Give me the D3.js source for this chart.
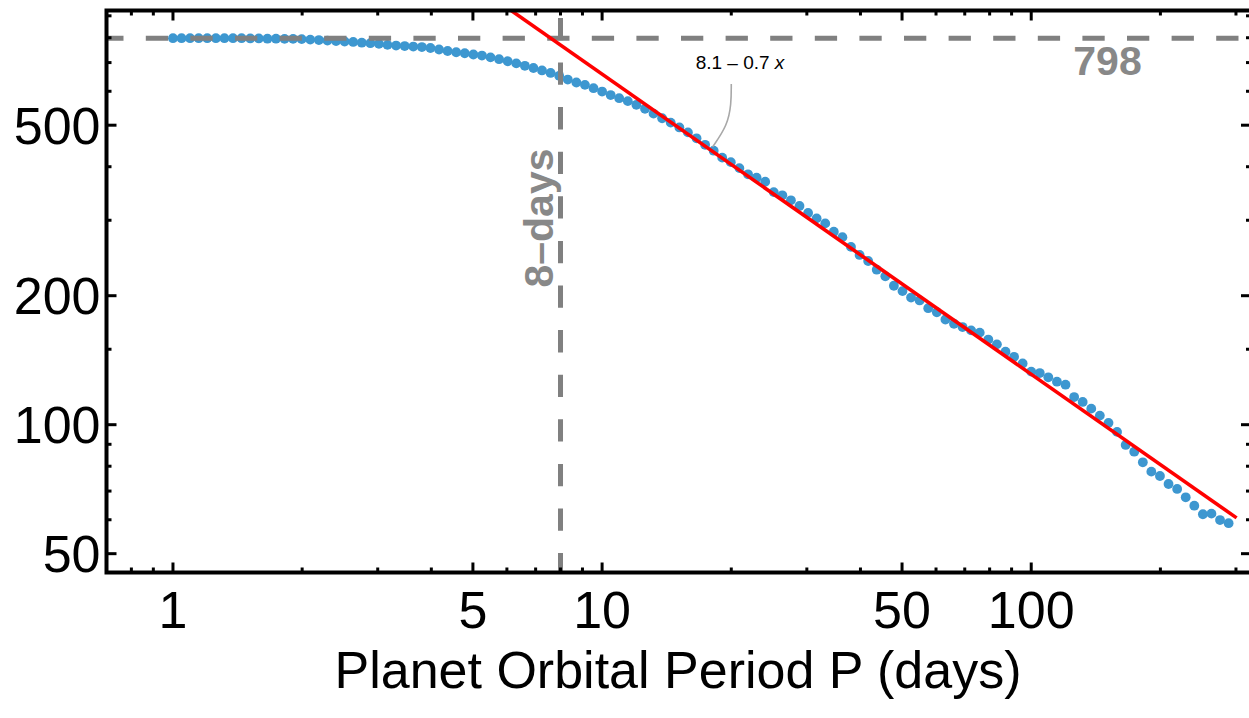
<!DOCTYPE html>
<html lang="en">
<head>
<meta charset="UTF-8">
<title>orbital period</title>
<script src="https://cdn.jsdelivr.net/npm/d3@7"></script>
<style>
    body{ margin: 0; background: #fff; }
    svg{ display: block; font-family: "Liberation Sans", Arial, sans-serif; }
</style>
</head>
<body>
<svg id="chart" width="1249" height="718"></svg>
<script>
    // points (period in days, y value)
    let period = [
        1, 1.047, 1.096, 1.148, 1.202, 1.259, 1.318, 1.380, 1.445, 1.514,
        1.585, 1.660, 1.738, 1.820, 1.905, 1.995, 2.089, 2.188, 2.291, 2.399,
        2.512, 2.630, 2.754, 2.884, 3.020, 3.162, 3.311, 3.467, 3.631, 3.802,
        3.981, 4.169, 4.365, 4.571, 4.786, 5.012, 5.248, 5.495, 5.754, 6.026,
        6.310, 6.607, 6.918, 7.244, 7.586, 7.943, 8.318, 8.710, 9.120, 9.550,
        10.00, 10.47, 10.96, 11.48, 12.02, 12.59, 13.18, 13.80, 14.45, 15.14,
        15.85, 16.60, 17.38, 18.20, 19.05, 19.95, 20.89, 21.88, 22.91, 23.99,
        25.12, 26.30, 27.54, 28.84, 30.20, 31.62, 33.11, 34.67, 36.31, 38.02,
        39.81, 41.69, 43.65, 45.71, 47.86, 50.12, 52.48, 54.95, 57.54, 60.26,
        63.10, 66.07, 69.18, 72.44, 75.86, 79.43, 83.18, 87.10, 91.20, 95.50,
        100.0, 104.7, 109.6, 114.8, 120.2, 125.9, 131.8, 138.0, 144.5, 151.4,
        158.5, 166.0, 173.8, 182.0, 190.5, 199.5, 208.9, 218.8, 229.1, 239.9,
        251.2, 263.0, 275.4, 288.4]
    let value = [
        798, 798, 798, 798, 798, 798, 798, 798, 798, 797,
        797, 796, 796, 795, 795, 794, 792, 790, 788, 786,
        784, 782, 779, 777, 774, 770, 767, 765, 763, 761,
        757, 751, 745, 740, 736, 731, 727, 720, 713, 705,
        697, 688, 680, 671, 662, 652, 639, 629, 621, 610,
        599, 588, 578, 569, 558, 546, 532, 519, 507, 494,
        481, 466, 450, 436, 420, 410, 397, 384, 377, 369,
        349, 343, 334, 324, 312, 303, 295, 282, 274, 260,
        249, 241, 230, 222, 211, 205, 198, 195, 187, 183,
        176, 172, 169, 166, 164, 158, 154, 148, 144, 139,
        133, 132, 129, 126, 124, 116, 113, 109, 105, 101,
        96.2, 89.7, 86.5, 81.7, 77.7, 75.9, 72.7, 70.8, 67.7, 64.7,
        61.8, 62.0, 59.9, 58.9]

    // fit line end points and callout
    let fitP = [5.5, 301]
    let fitV = [1000, 60.6]
    let fitLabel = "8.1 \u2013 0.7 "
    let leaderP = [20.0, 20.0, 19.6, 18.1]
    let leaderV = [624, 560, 500, 445]

    let plateau = 798
    let cutDays = 8

    let xMajor = [1, 5, 10, 50, 100]
    let xMinor = [0.8, 0.9, 2, 3, 4, 6, 7, 8, 9, 20, 30, 40, 60, 70, 80, 90, 200, 300]
    let yMajor = [50, 100, 200, 500]
    let yMinor = [60, 70, 80, 90, 150, 300, 400, 600, 700, 800, 900]

    let pLeft = 106.5, pRight = 1251, pTop = 10.5, pBottom = 572.5

    let x = d3.scaleLog().domain([0.7, 325.2]).range([pLeft, pRight])
    let y = d3.scaleLog().domain([45.19, 926.1]).range([pBottom, pTop])

    let svg = d3.select("#chart")

    svg.append("clipPath").attr("id", "plotArea")
        .append("rect")
        .attr("x", pLeft).attr("y", pTop)
        .attr("width", pRight - pLeft).attr("height", pBottom - pTop)

    let plot = svg.append("g").attr("clip-path", "url(#plotArea)")

    // points
    plot.selectAll("circle")
        .data(period)
        .enter()
        .append("circle")
        .attr("cx", function (d) { return x(d) })
        .attr("cy", function (d, i) { return y(value[i]) })
        .attr("r", 4.9)
        .attr("fill", "#3d97d0")

    // dashed guide lines
    plot.append("line")
        .attr("x1", pLeft).attr("x2", pRight)
        .attr("y1", y(plateau)).attr("y2", y(plateau))
        .attr("stroke", "#808080")
        .attr("stroke-width", 5)
        .attr("stroke-dasharray", "22.3 22.3")
        .attr("stroke-dashoffset", 5.3)

    plot.append("line")
        .attr("x1", x(cutDays)).attr("x2", x(cutDays))
        .attr("y1", pBottom).attr("y2", pTop)
        .attr("stroke", "#808080")
        .attr("stroke-width", 5)
        .attr("stroke-dasharray", "22.3 22.3")
        .attr("stroke-dashoffset", 2.9)

    // fit line
    let line = d3.line()
        .x(function (d) { return x(d) })
        .y(function (d, i) { return y(fitV[i]) })

    plot.append("path")
        .attr("d", line(fitP))
        .attr("fill", "none")
        .attr("stroke", "#ff0000")
        .attr("stroke-width", 3.6)

    let leader = d3.line()
        .x(function (d) { return x(d) })
        .y(function (d, i) { return y(leaderV[i]) })
        .curve(d3.curveBasis)

    plot.append("path")
        .attr("d", leader(leaderP))
        .attr("fill", "none")
        .attr("stroke", "#a8a8a8")
        .attr("stroke-width", 1.6)

    let lab = svg.append("text")
        .attr("x", 740).attr("y", 69)
        .attr("text-anchor", "middle")
        .attr("font-size", 19)
        .attr("fill", "#000")
        .text(fitLabel)
    lab.append("tspan").attr("font-style", "italic").text("x")

    svg.append("text")
        .attr("x", 1107.5).attr("y", 75)
        .attr("text-anchor", "middle")
        .attr("font-size", 41)
        .attr("font-weight", "bold")
        .attr("fill", "#888888")
        .text(plateau)

    svg.append("text")
        .attr("transform", "translate(553,218) rotate(-90)")
        .attr("text-anchor", "middle")
        .attr("font-size", 41)
        .attr("font-weight", "bold")
        .attr("fill", "#888888")
        .text(cutDays + "\u2013days")

    // axes, ticks pointing inward
    function styleAxis(g, w) {
        g.select(".domain").remove()
        g.selectAll(".tick line").attr("stroke", "#000").attr("stroke-width", w)
        g.selectAll("text").attr("font-size", 52).attr("fill", "#000")
            .attr("font-family", "Liberation Sans, Arial, sans-serif")
    }

    let fmt = d3.format("d")

    svg.append("g")
        .attr("transform", "translate(0," + pBottom + ")")
        .call(d3.axisBottom(x).tickValues(xMajor).tickFormat(fmt).tickSize(-10).tickPadding(19).offset(0))
        .call(styleAxis, 3)
    svg.append("g")
        .attr("transform", "translate(0," + pBottom + ")")
        .call(d3.axisBottom(x).tickValues(xMinor).tickFormat("").tickSize(-5).offset(0))
        .call(styleAxis, 3)
    svg.append("g")
        .attr("transform", "translate(0," + pTop + ")")
        .call(d3.axisTop(x).tickValues(xMajor).tickFormat("").tickSize(-10).offset(0))
        .call(styleAxis, 3)
    svg.append("g")
        .attr("transform", "translate(0," + pTop + ")")
        .call(d3.axisTop(x).tickValues(xMinor).tickFormat("").tickSize(-5).offset(0))
        .call(styleAxis, 3)

    let yAxis = svg.append("g")
        .attr("transform", "translate(" + pLeft + ",0)")
        .call(d3.axisLeft(y).tickValues(yMajor).tickFormat(fmt).tickSize(-10).tickPadding(6).offset(0))
        .call(styleAxis, 3)
    yAxis.selectAll("text").attr("dy", "0.355em")
    svg.append("g")
        .attr("transform", "translate(" + pLeft + ",0)")
        .call(d3.axisLeft(y).tickValues(yMinor).tickFormat("").tickSize(-5).offset(0))
        .call(styleAxis, 3)
    svg.append("g")
        .attr("transform", "translate(" + pRight + ",0)")
        .call(d3.axisRight(y).tickValues(yMajor).tickFormat("").tickSize(-10).offset(0))
        .call(styleAxis, 3)
    svg.append("g")
        .attr("transform", "translate(" + pRight + ",0)")
        .call(d3.axisRight(y).tickValues(yMinor).tickFormat("").tickSize(-5).offset(0))
        .call(styleAxis, 3)

    // frame
    svg.append("rect")
        .attr("x", pLeft).attr("y", pTop)
        .attr("width", pRight - pLeft).attr("height", pBottom - pTop)
        .attr("fill", "none")
        .attr("stroke", "#000")
        .attr("stroke-width", 4)

    svg.append("text")
        .attr("x", 678).attr("y", 688)
        .attr("text-anchor", "middle")
        .attr("font-size", 52)
        .attr("fill", "#000")
        .text("Planet Orbital Period P (days)")
</script>
</body>
</html>
